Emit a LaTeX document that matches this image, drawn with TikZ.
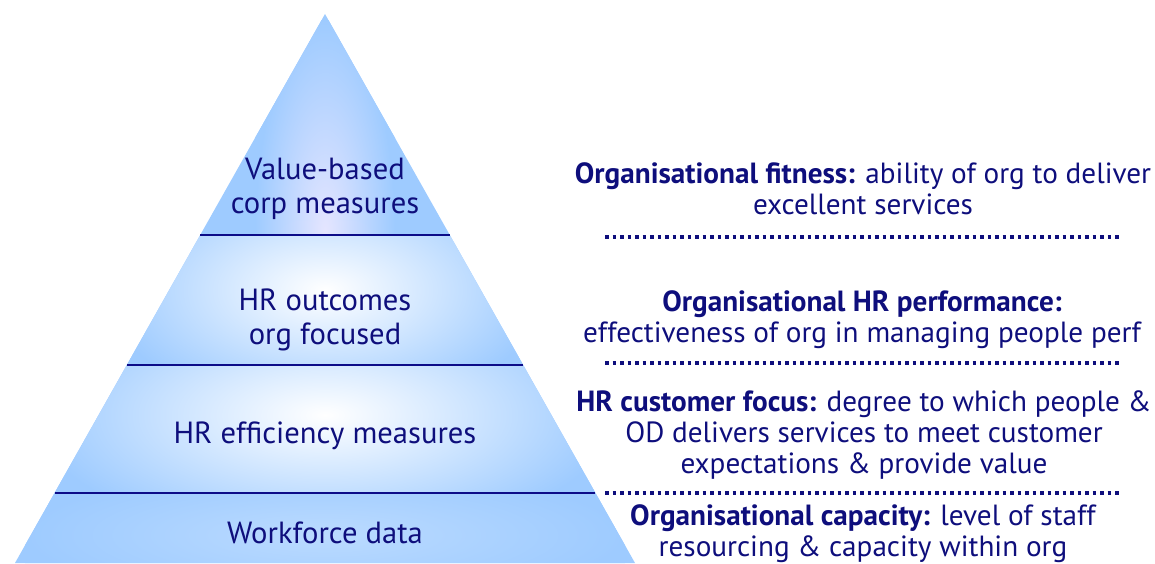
\documentclass[tikz,border=0pt]{standalone}
\usepackage{fontspec}
\setmainfont{PT Sans}
\usetikzlibrary{calc}
\definecolor{pyrblue}{RGB}{158,203,255}
\definecolor{pyrnavy}{RGB}{14,14,124}
\tikzset{
  bandline/.style={pyrnavy!90!blue, line width=1pt},
  dotline/.style={pyrnavy, line width=1.85pt, dash pattern=on 1.85pt off 1.9pt},
  lvl/.style={text=pyrnavy, align=center, inner sep=0pt, font=\fontsize{15.3}{16.8}\selectfont},
  desc/.style={text=pyrnavy, align=center, inner sep=0pt, font=\fontsize{14.6}{15.6}\selectfont}
}
\begin{document}
\begin{tikzpicture}[x=0.5pt, y=-0.5pt]
                    \useasboundingbox (0,0) rectangle (1155,563);
                    % Pyramid corners and band edges
                    \coordinate (apex) at (325,14);
                    \coordinate (baseL) at (15,563);
                    \coordinate (baseR) at (635,563);
                    \coordinate (l1L) at ($(apex)!0.4026!(baseL)$);
                    \coordinate (l1R) at ($(apex)!0.4026!(baseR)$);
                    \coordinate (l2L) at ($(apex)!0.6393!(baseL)$);
                    \coordinate (l2R) at ($(apex)!0.6393!(baseR)$);
                    \coordinate (l3L) at ($(apex)!0.8725!(baseL)$);
                    \coordinate (l3R) at ($(apex)!0.8725!(baseR)$);
                    \fill[pyrblue] (apex) -- (baseR) -- (baseL) -- cycle;
                    % Soft highlights in each band
                    \begin{scope}
                      \clip (apex) -- (l1R) -- (l1L) -- cycle;
                      \shade[inner color=blue!10!white, outer color=pyrblue] (255,20) rectangle (395,450);
                    \end{scope}
                    \begin{scope}
                      \clip (l1L) -- (l1R) -- (l2R) -- (l2L) -- cycle;
                      \shade[inner color=white, outer color=pyrblue] (105,170) rectangle (545,410);
                    \end{scope}
                    \begin{scope}
                      \clip (l2L) -- (l2R) -- (l3R) -- (l3L) -- cycle;
                      \shade[inner color=white, outer color=pyrblue] (35,290) rectangle (615,540);
                    \end{scope}
                    \begin{scope}
                      \clip (l3L) -- (l3R) -- (baseR) -- (baseL) -- cycle;
                      \shade[inner color=pyrblue!70!white, outer color=pyrblue] (25,470) rectangle (625,600);
                    \end{scope}
                    % Band separators
                    \draw[bandline] (l1L) -- (l1R);
                    \draw[bandline] (l2L) -- (l2R);
                    \draw[bandline] (l3L) -- (l3R);
                    % Level labels
                    \node[lvl] (valuecorp) at (325,189) {Value-based\\corp measures};
                    \node[lvl] (hroutcomes) at (325,320) {HR outcomes\\org focused};
                    \node[lvl] (hrefficiency) at (325,436) {HR efficiency measures};
                    \node[lvl] (workforce) at (325,533) {Workforce data};
                    % Descriptions on the right
                    \node[desc] (fitness) at (863,189) {\textbf{Organisational fitness:} ability of org to deliver\\excellent services};
                    \node[desc] (hrperf) at (862,320) {\textbf{Organisational HR performance:}\\effectiveness of org in managing people perf};
                    \node[desc] (custfocus) at (864,435) {\textbf{HR customer focus:} degree to which people \&\\OD delivers services to meet customer\\expectations \& provide value};
                    \node[desc] (capacity) at (863,534) {\textbf{Organisational capacity:} level of staff\\resourcing \& capacity within org};
                    % Dotted dividers
                    \coordinate (d1a) at (605,237); \coordinate (d1b) at (1122,237);
                    \coordinate (d2a) at (605,363); \coordinate (d2b) at (1122,363);
                    \coordinate (d3a) at (605,493); \coordinate (d3b) at (1122,493);
                    \draw[dotline] (d1a) -- (d1b);
                    \draw[dotline] (d2a) -- (d2b);
                    \draw[dotline] (d3a) -- (d3b);
                \end{tikzpicture}
\end{document}
